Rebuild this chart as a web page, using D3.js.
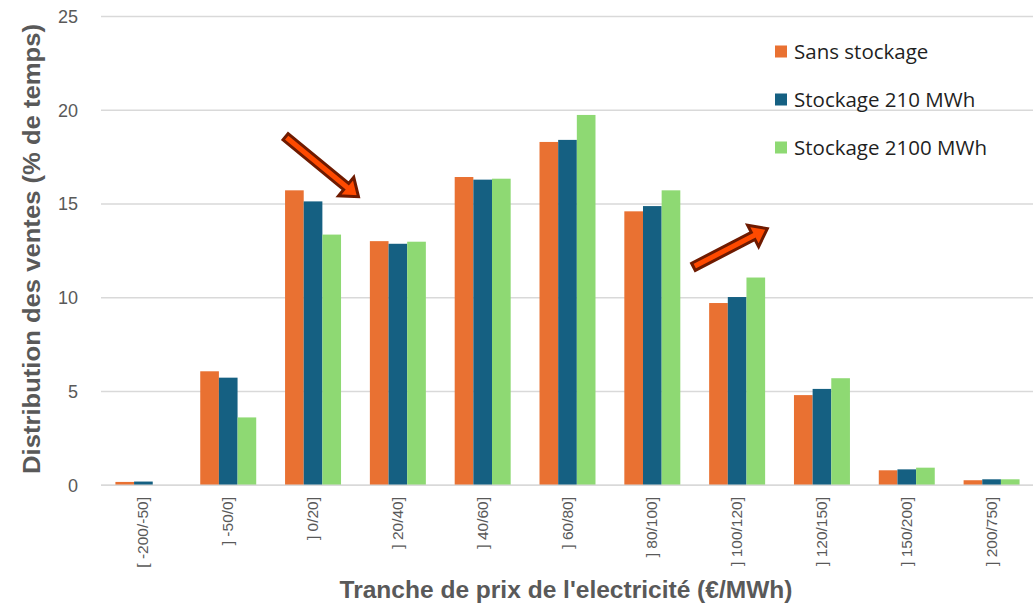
<!DOCTYPE html>
<html>
<head>
<meta charset="utf-8">
<script src="https://cdn.jsdelivr.net/npm/d3@7"></script>
<style>
  html, body { margin: 0; padding: 0; background: #fff; }
  svg { display: block; }
</style>
</head>
<body>
<svg id="chart" width="1033" height="604"></svg>
<script>
// Price bands (€/MWh)
const categories = ["[ -200/-50]", "] -50/0]", "] 0/20]", "] 20/40]", "] 40/60]", "] 60/80]",
                    "] 80/100]", "] 100/120]", "] 120/150]", "] 150/200]", "] 200/750]"];
const seriesNames = ["Sans stockage", "Stockage 210 MWh", "Stockage 2100 MWh"];

// Share of sales time per price band (%)
const sansStockage = [0.18, 6.08, 15.73, 13.02, 16.44, 18.31, 14.61, 9.72, 4.81, 0.80, 0.27];
const stockage210  = [0.20, 5.74, 15.14, 12.88, 16.30, 18.42, 14.89, 10.04, 5.14, 0.85, 0.32];
const stockage2100 = [0.00, 3.62, 13.37, 12.99, 16.35, 19.75, 15.73, 11.08, 5.71, 0.94, 0.32];

const yTicks = [0, 5, 10, 15, 20, 25];
const colors = ["#E97132", "#156082", "#8ED973"];

// Trend arrows, given as [band index, value]
const arrowFrom = [[1.676, 18.59], [6.485, 11.65]];
const arrowTo   = [[2.554, 15.32], [7.377, 13.74]];

const seriesValues = [sansStockage, stockage210, stockage2100];

const svg = d3.select("#chart");
const plot = { left: 101, right: 1034, top: 16.5, bottom: 485.3 };

const x0 = d3.scaleBand().domain(categories).range([plot.left, plot.right])
  .paddingInner(0.34).paddingOuter(0.17);
const x1 = d3.scaleBand().domain(seriesNames).range([0, x0.bandwidth()]);
const y = d3.scaleLinear().domain([0, 25]).range([plot.bottom, plot.top]);
const xIdx = d3.scaleLinear().domain([-0.5, categories.length - 0.5]).range([plot.left, plot.right]);

const gray = "#595959";

// Horizontal gridlines
svg.append("g").selectAll("line").data(yTicks).join("line")
  .attr("x1", plot.left).attr("x2", plot.right)
  .attr("y1", d => y(d)).attr("y2", d => y(d))
  .attr("stroke", "#d9d9d9").attr("stroke-width", 1.4);

// Y tick labels
svg.append("g").selectAll("text").data(yTicks).join("text")
  .attr("x", 78).attr("y", d => y(d)).attr("dy", "0.35em")
  .attr("text-anchor", "end")
  .attr("font-family", "Liberation Sans, Arial, sans-serif")
  .attr("font-size", 18).attr("fill", gray)
  .text(d => d);

// Bars
const rows = categories.map((c, i) => ({ cat: c, vals: seriesNames.map((s, k) => ({ s, k, v: seriesValues[k][i] })) }));
svg.append("g").selectAll("g").data(rows).join("g")
  .attr("transform", d => `translate(${x0(d.cat)},0)`)
  .selectAll("rect").data(d => d.vals).join("rect")
  .attr("x", d => x1(d.s))
  .attr("y", d => y(d.v))
  .attr("width", x1.bandwidth())
  .attr("height", d => y(0) - y(d.v))
  .attr("fill", d => colors[d.k]);

// Baseline
svg.append("line")
  .attr("x1", plot.left).attr("x2", plot.right)
  .attr("y1", y(0)).attr("y2", y(0))
  .attr("stroke", "#d9d9d9").attr("stroke-width", 1.4);

// X tick labels, rotated
svg.append("g").selectAll("text").data(categories).join("text")
  .attr("transform", d => `translate(${x0(d) + x0.bandwidth() / 2 + 5},497) rotate(-90)`)
  .attr("text-anchor", "end")
  .attr("font-family", "Liberation Sans, Arial, sans-serif")
  .attr("font-size", 15.5).attr("fill", gray)
  .text(d => d);

// Axis titles
svg.append("text")
  .attr("transform", `translate(40,249) rotate(-90)`)
  .attr("text-anchor", "middle")
  .attr("font-family", "Liberation Sans, Arial, sans-serif")
  .attr("font-weight", "bold").attr("font-size", 24).attr("fill", gray)
  .attr("textLength", 450).attr("lengthAdjust", "spacingAndGlyphs")
  .text("Distribution des ventes (% de temps)");

svg.append("text")
  .attr("x", 566).attr("y", 598)
  .attr("text-anchor", "middle")
  .attr("font-family", "Liberation Sans, Arial, sans-serif")
  .attr("font-weight", "bold").attr("font-size", 23).attr("fill", gray)
  .attr("textLength", 453).attr("lengthAdjust", "spacingAndGlyphs")
  .text("Tranche de prix de l'electricité (€/MWh)");

// Legend
const legend = svg.append("g").selectAll("g").data(seriesNames).join("g")
  .attr("transform", (d, i) => `translate(775,${52 + i * 48})`);
legend.append("rect")
  .attr("x", 0).attr("y", -6.5).attr("width", 12).attr("height", 12)
  .attr("fill", (d, i) => colors[i]);
legend.append("text")
  .attr("x", 19).attr("y", 0).attr("dy", "0.35em")
  .attr("font-family", "Open Sans, Noto Sans, sans-serif")
  .attr("font-size", 20.5).attr("fill", "#1f1f1f")
  .text(d => d);

// Block arrows
function arrowPath(len) {
  const w = 8, hw = 24, hl = 16;
  return `M0,${-w / 2}L${len - hl},${-w / 2}L${len - hl},${-hw / 2}L${len},0L${len - hl},${hw / 2}L${len - hl},${w / 2}L0,${w / 2}Z`;
}
svg.append("g").selectAll("path").data(arrowFrom.map((f, i) => [f, arrowTo[i]])).join("path")
  .attr("transform", d => {
    const x0p = xIdx(d[0][0]), y0p = y(d[0][1]);
    const ang = Math.atan2(y(d[1][1]) - y0p, xIdx(d[1][0]) - x0p) * 180 / Math.PI;
    return `translate(${x0p},${y0p}) rotate(${ang})`;
  })
  .attr("d", d => {
    const dx = xIdx(d[1][0]) - xIdx(d[0][0]), dy = y(d[1][1]) - y(d[0][1]);
    return arrowPath(Math.hypot(dx, dy) - 2);
  })
  .attr("fill", "#FF4A00").attr("stroke", "#6E1A00")
  .attr("stroke-width", 3).attr("stroke-linejoin", "miter");
</script>
</body>
</html>
